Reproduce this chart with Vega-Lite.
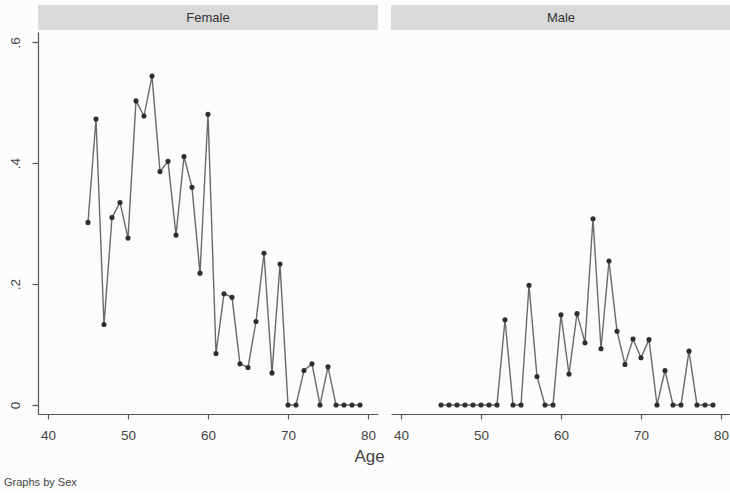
{
  "$schema": "https://vega.github.io/schema/vega-lite/v6.json",
  "background": "#fcfcfc",
  "padding": {"top": 5, "left": 3, "right": 0, "bottom": 4},
  "config": {
    "font": "Liberation Sans",
    "view": {"stroke": null},
    "axis": {"grid": false, "domainColor": "#555555", "tickColor": "#555555", "labelColor": "#444444", "labelFont": "Liberation Sans", "labelFontSize": 13.5, "domainWidth": 1.2, "tickWidth": 1.2},
    "title": {"font": "Liberation Sans", "color": "#333333", "fontWeight": "normal"}
  },
  "datasets": {
    "rates": [
      {"Sex": "Female", "Age": 45, "Rate": 0.302},
      {"Sex": "Female", "Age": 46, "Rate": 0.473},
      {"Sex": "Female", "Age": 47, "Rate": 0.133},
      {"Sex": "Female", "Age": 48, "Rate": 0.31},
      {"Sex": "Female", "Age": 49, "Rate": 0.335},
      {"Sex": "Female", "Age": 50, "Rate": 0.276},
      {"Sex": "Female", "Age": 51, "Rate": 0.503},
      {"Sex": "Female", "Age": 52, "Rate": 0.478},
      {"Sex": "Female", "Age": 53, "Rate": 0.544},
      {"Sex": "Female", "Age": 54, "Rate": 0.386},
      {"Sex": "Female", "Age": 55, "Rate": 0.403},
      {"Sex": "Female", "Age": 56, "Rate": 0.281},
      {"Sex": "Female", "Age": 57, "Rate": 0.411},
      {"Sex": "Female", "Age": 58, "Rate": 0.36},
      {"Sex": "Female", "Age": 59, "Rate": 0.218},
      {"Sex": "Female", "Age": 60, "Rate": 0.481},
      {"Sex": "Female", "Age": 61, "Rate": 0.085},
      {"Sex": "Female", "Age": 62, "Rate": 0.184},
      {"Sex": "Female", "Age": 63, "Rate": 0.178},
      {"Sex": "Female", "Age": 64, "Rate": 0.068},
      {"Sex": "Female", "Age": 65, "Rate": 0.062},
      {"Sex": "Female", "Age": 66, "Rate": 0.138},
      {"Sex": "Female", "Age": 67, "Rate": 0.251},
      {"Sex": "Female", "Age": 68, "Rate": 0.053},
      {"Sex": "Female", "Age": 69, "Rate": 0.233},
      {"Sex": "Female", "Age": 70, "Rate": 0},
      {"Sex": "Female", "Age": 71, "Rate": 0},
      {"Sex": "Female", "Age": 72, "Rate": 0.057},
      {"Sex": "Female", "Age": 73, "Rate": 0.068},
      {"Sex": "Female", "Age": 74, "Rate": 0},
      {"Sex": "Female", "Age": 75, "Rate": 0.063},
      {"Sex": "Female", "Age": 76, "Rate": 0},
      {"Sex": "Female", "Age": 77, "Rate": 0},
      {"Sex": "Female", "Age": 78, "Rate": 0},
      {"Sex": "Female", "Age": 79, "Rate": 0},
      {"Sex": "Male", "Age": 45, "Rate": 0},
      {"Sex": "Male", "Age": 46, "Rate": 0},
      {"Sex": "Male", "Age": 47, "Rate": 0},
      {"Sex": "Male", "Age": 48, "Rate": 0},
      {"Sex": "Male", "Age": 49, "Rate": 0},
      {"Sex": "Male", "Age": 50, "Rate": 0},
      {"Sex": "Male", "Age": 51, "Rate": 0},
      {"Sex": "Male", "Age": 52, "Rate": 0},
      {"Sex": "Male", "Age": 53, "Rate": 0.141},
      {"Sex": "Male", "Age": 54, "Rate": 0},
      {"Sex": "Male", "Age": 55, "Rate": 0},
      {"Sex": "Male", "Age": 56, "Rate": 0.198},
      {"Sex": "Male", "Age": 57, "Rate": 0.047},
      {"Sex": "Male", "Age": 58, "Rate": 0},
      {"Sex": "Male", "Age": 59, "Rate": 0},
      {"Sex": "Male", "Age": 60, "Rate": 0.149},
      {"Sex": "Male", "Age": 61, "Rate": 0.051},
      {"Sex": "Male", "Age": 62, "Rate": 0.151},
      {"Sex": "Male", "Age": 63, "Rate": 0.103},
      {"Sex": "Male", "Age": 64, "Rate": 0.308},
      {"Sex": "Male", "Age": 65, "Rate": 0.093},
      {"Sex": "Male", "Age": 66, "Rate": 0.238},
      {"Sex": "Male", "Age": 67, "Rate": 0.122},
      {"Sex": "Male", "Age": 68, "Rate": 0.067},
      {"Sex": "Male", "Age": 69, "Rate": 0.109},
      {"Sex": "Male", "Age": 70, "Rate": 0.078},
      {"Sex": "Male", "Age": 71, "Rate": 0.108},
      {"Sex": "Male", "Age": 72, "Rate": 0},
      {"Sex": "Male", "Age": 73, "Rate": 0.057},
      {"Sex": "Male", "Age": 74, "Rate": 0},
      {"Sex": "Male", "Age": 75, "Rate": 0},
      {"Sex": "Male", "Age": 76, "Rate": 0.089},
      {"Sex": "Male", "Age": 77, "Rate": 0},
      {"Sex": "Male", "Age": 78, "Rate": 0},
      {"Sex": "Male", "Age": 79, "Rate": 0}
    ],
    "stripF": [{"label": "Female"}],
    "stripM": [{"label": "Male"}]
  },
  "title": {"text": "Graphs by Sex", "orient": "bottom", "anchor": "start", "fontSize": 11, "color": "#444444", "offset": 12, "dx": -4},
  "vconcat": [
    {
      "title": {"text": "Age", "orient": "bottom", "anchor": "middle", "fontSize": 17, "color": "#444444", "offset": 7},
      "spacing": 13,
      "hconcat": [
        {
          "spacing": 2,
          "vconcat": [
            {
              "width": 340, "height": 25,
              "view": {"fill": "#d9d9d9", "stroke": null},
              "data": {"name": "stripF"},
              "mark": {"type": "text", "fontSize": 13, "color": "#333333"},
              "encoding": {"text": {"field": "label"}}
            },
            {
              "width": 340, "height": 382,
              "data": {"name": "rates"},
              "transform": [{"filter": "datum.Sex === 'Female'"}],
              "encoding": {
                "x": {"field": "Age", "type": "quantitative", "scale": {"domain": [38.75, 81.25], "nice": false, "zero": false},
                      "axis": {"values": [40, 50, 60, 70, 80], "title": null, "tickSize": 5, "labelPadding": 9}},
                "y": {"field": "Rate", "type": "quantitative", "scale": {"domain": [-0.015, 0.617], "nice": false, "zero": false},
                      "axis": {"values": [0, 0.2, 0.4, 0.6], "title": null, "tickSize": 6, "labelPadding": 10, "labelAngle": -90,
                               "labelExpr": "datum.value == 0 ? '0' : replace(format(datum.value, '.1f'), '0.', '.')"}}
              },
              "layer": [
                {"mark": {"type": "line", "color": "#6a6a6a", "strokeWidth": 1.4}},
                {"mark": {"type": "point", "filled": true, "color": "#2e2e2e", "size": 26, "opacity": 1}}
              ]
            }
          ]
        },
        {
          "spacing": 2,
          "vconcat": [
            {
              "width": 340, "height": 25,
              "view": {"fill": "#d9d9d9", "stroke": null},
              "data": {"name": "stripM"},
              "mark": {"type": "text", "fontSize": 13, "color": "#333333"},
              "encoding": {"text": {"field": "label"}}
            },
            {
              "width": 340, "height": 382,
              "data": {"name": "rates"},
              "transform": [{"filter": "datum.Sex === 'Male'"}],
              "encoding": {
                "x": {"field": "Age", "type": "quantitative", "scale": {"domain": [38.75, 81.25], "nice": false, "zero": false},
                      "axis": {"values": [40, 50, 60, 70, 80], "title": null, "tickSize": 5, "labelPadding": 9}},
                "y": {"field": "Rate", "type": "quantitative", "scale": {"domain": [-0.015, 0.617], "nice": false, "zero": false},
                      "axis": null}
              },
              "layer": [
                {"mark": {"type": "line", "color": "#6a6a6a", "strokeWidth": 1.4}},
                {"mark": {"type": "point", "filled": true, "color": "#2e2e2e", "size": 26, "opacity": 1}}
              ]
            }
          ]
        }
      ]
    }
  ]
}
